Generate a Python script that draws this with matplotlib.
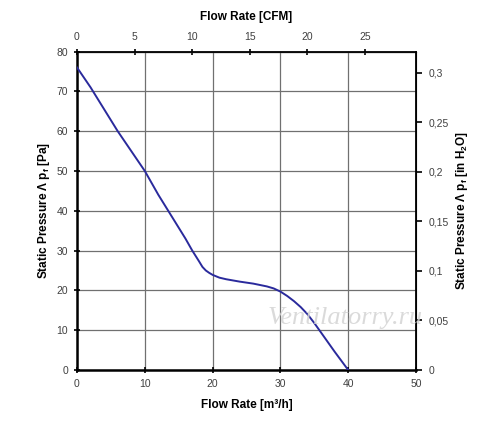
import matplotlib
matplotlib.use("Agg")
import matplotlib.pyplot as plt
from matplotlib.ticker import FuncFormatter

# fan curve
flow_m3h = [0, 2, 4, 6, 8, 10, 12, 14, 16, 17, 18, 18.5, 19, 19.5, 20, 21, 22, 24, 26, 28, 29, 30,
            31, 32, 33, 34, 35, 36, 37, 38, 39, 40]
pressure_pa = [76, 71, 65.5, 60, 55, 50, 44, 38.5, 33, 30, 27.3, 25.9, 25, 24.4, 23.9, 23.2, 22.8, 22.2,
               21.7, 21, 20.5, 19.7, 18.6, 17.3, 15.8, 14, 11.8, 9.4, 7.0, 4.6, 2.3, 0]

x_ticks = [0, 10, 20, 30, 40, 50]
y_ticks = [0, 10, 20, 30, 40, 50, 60, 70, 80]
cfm_ticks = [0, 5, 10, 15, 20, 25]
inh2o_ticks = [0, 0.05, 0.1, 0.15, 0.2, 0.25, 0.3]

M3H_PER_CFM = 1.699
PA_PER_INH2O = 249.09

plt.rcParams['font.family'] = ['Liberation Sans', 'DejaVu Sans']

fig = plt.figure(figsize=(5.0, 4.37), dpi=100)
ax = fig.add_axes([0.154, 0.1533, 0.678, 0.7288])

ax.plot(flow_m3h, pressure_pa, color='#2a2a9c', lw=1.4, zorder=3)

ax.set_xlim(0, 50)
ax.set_ylim(0, 80)
ax.set_xticks(x_ticks)
ax.set_yticks(y_ticks)
ax.grid(True, color='#707070', lw=0.9)
ax.tick_params(direction='inout', length=5, width=1.2, labelsize=7.5, labelcolor='#404040', pad=4)

for side in ['left', 'bottom']:
    ax.spines[side].set_linewidth(1.8)
for side in ['top', 'right']:
    ax.spines[side].set_linewidth(1.3)

ax.set_xlabel('Flow Rate [m³/h]', fontsize=8.5, fontweight='bold', labelpad=7)
ax.set_ylabel('Static Pressure Λ p$_\\mathregular{f}$ [Pa]', fontsize=8.5, fontweight='bold', labelpad=3)

top = ax.secondary_xaxis('top', functions=(lambda q: q / M3H_PER_CFM, lambda c: c * M3H_PER_CFM))
top.set_xticks(cfm_ticks)
top.tick_params(direction='inout', length=5, width=1.2, labelsize=7.5, labelcolor='#404040', pad=4)
top.set_xlabel('Flow Rate [CFM]', fontsize=8.5, fontweight='bold', labelpad=9)

right = ax.secondary_yaxis('right', functions=(lambda p: p / PA_PER_INH2O, lambda i: i * PA_PER_INH2O))
right.set_yticks(inh2o_ticks)
right.yaxis.set_major_formatter(FuncFormatter(lambda v, pos: ('%g' % round(v, 2)).replace('.', ',')))
right.tick_params(direction='out', length=4, width=1.2, labelsize=7.5, labelcolor='#404040', pad=5)
right.set_ylabel('Static Pressure Λ p$_\\mathregular{f}$ [in H$_\\mathregular{2}$O]', fontsize=8.5,
                 fontweight='bold', labelpad=4)

# faint watermark
fig.text(0.69, 0.272, 'Ventilatorry.ru', fontsize=19, family='Liberation Serif', style='italic',
         color='#d4d4d4', alpha=0.85, ha='center', va='center', zorder=5)

fig.savefig('out.png', dpi=100)
